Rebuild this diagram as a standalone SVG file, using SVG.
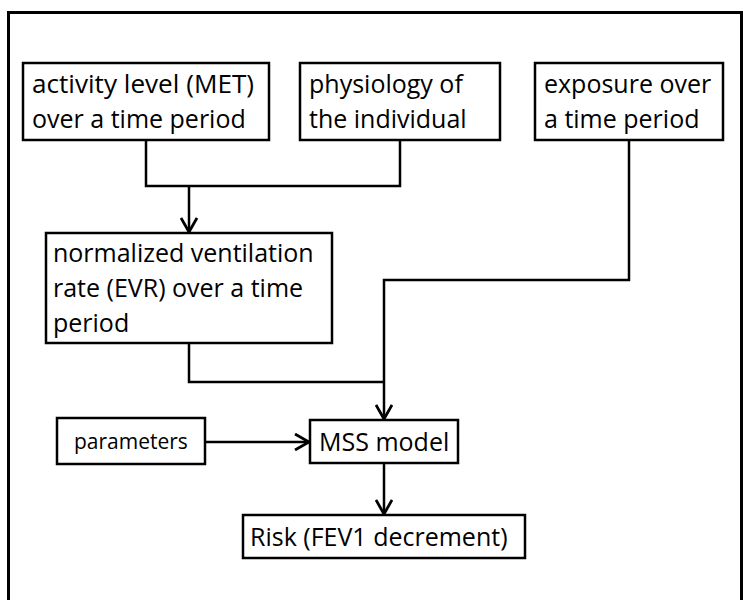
<svg xmlns="http://www.w3.org/2000/svg" width="743" height="600" viewBox="0 0 743 600">
<defs>
<style>
.frame{fill:none;stroke:#000;stroke-width:3}
.box{fill:#fff;stroke:#000;stroke-width:2.5}
.t{font-family:"Open Sans","Noto Sans",sans-serif;font-size:25px;fill:#000}
.s{font-family:"Open Sans","Noto Sans",sans-serif;font-size:21px;fill:#000}
.c{fill:none;stroke:#000;stroke-width:2.5}
</style>
<marker id="arr" viewBox="0 0 16 18" refX="15" refY="9" markerWidth="16" markerHeight="18" markerUnits="userSpaceOnUse" orient="auto">
<path d="M1,1 L15,9 L1,17" fill="none" stroke="#000" stroke-width="2.8"/>
</marker>
</defs>
<rect width="743" height="600" fill="#fff"/>
<path class="frame" d="M8.5,602 V12.5 H741.5 V602"/>
<g id="connectors">
<path class="c" d="M146,140 V186 H400 V140"/>
<path class="c" d="M189,186 V232" marker-end="url(#arr)"/>
<path class="c" d="M189,343 V382 H384"/>
<path class="c" d="M629,140 V280 H384 V419" marker-end="url(#arr)"/>
<path class="c" d="M205,442 H309" marker-end="url(#arr)"/>
<path class="c" d="M384,463 V514" marker-end="url(#arr)"/>
</g>
<g id="activity">
<rect class="box" x="23" y="63" width="246" height="77"/>
<text class="t" x="32" y="93" textLength="222" lengthAdjust="spacingAndGlyphs">activity level (MET)</text>
<text class="t" x="32" y="128">over a time period</text>
</g>
<g id="physiology">
<rect class="box" x="300" y="63" width="200" height="77"/>
<text class="t" x="309" y="93">physiology of</text>
<text class="t" x="309" y="128">the individual</text>
</g>
<g id="exposure">
<rect class="box" x="535" y="63" width="188" height="77"/>
<text class="t" x="544" y="93">exposure over</text>
<text class="t" x="544" y="128">a time period</text>
</g>
<g id="evr">
<rect class="box" x="46" y="233" width="286" height="110"/>
<text class="t" x="53" y="262">normalized ventilation</text>
<text class="t" x="53" y="297">rate (EVR) over a time</text>
<text class="t" x="53" y="332">period</text>
</g>
<g id="parameters">
<rect class="box" x="57" y="418" width="148" height="46"/>
<text class="s" x="74" y="449">parameters</text>
</g>
<g id="mss">
<rect class="box" x="310" y="420" width="148" height="43"/>
<text class="t" x="319" y="451">MSS model</text>
</g>
<g id="risk">
<rect class="box" x="243" y="515" width="282" height="43"/>
<text class="t" x="250" y="546">Risk (FEV1 decrement)</text>
</g>
</svg>
